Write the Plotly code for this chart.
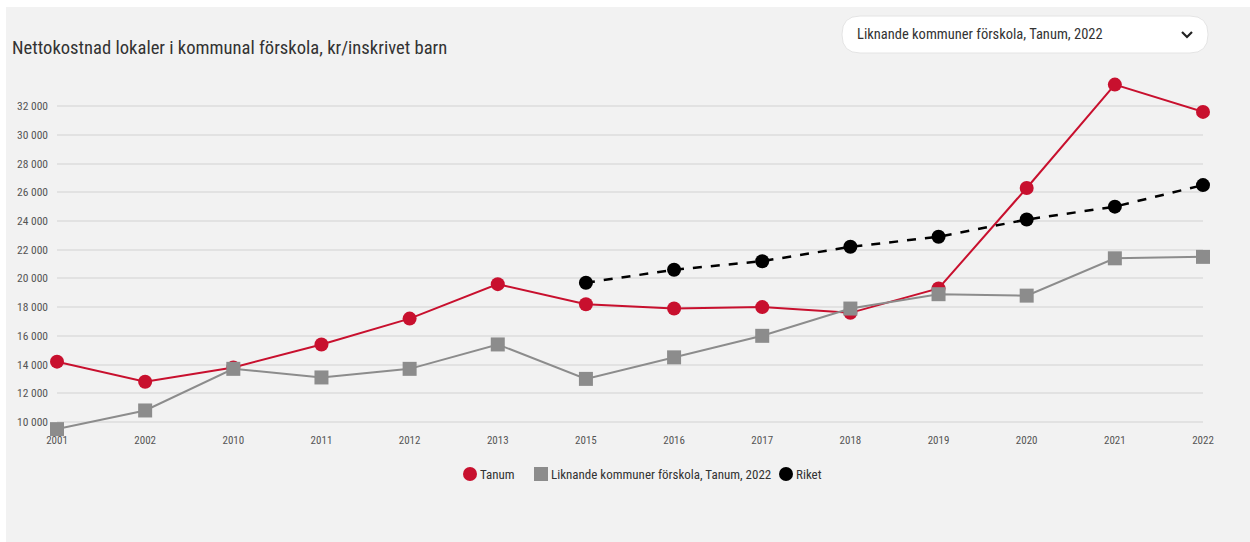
import plotly.graph_objects as go

# Years shown on the category axis
years = ["2001", "2002", "2010", "2011", "2012", "2013", "2015",
         "2016", "2017", "2018", "2019", "2020", "2021", "2022"]

# Net cost of premises, SEK per enrolled child
tanum = [14200, 12800, 13800, 15400, 17200, 19600, 18200,
         17900, 18000, 17600, 19300, 26300, 33500, 31600]
liknande = [9500, 10800, 13700, 13100, 13700, 15400, 13000,
            14500, 16000, 17900, 18900, 18800, 21400, 21500]
riket = [None, None, None, None, None, None, 19700,
         20600, 21200, 22200, 22900, 24100, 25000, 26500]

series_names = ["Tanum", "Liknande kommuner förskola, Tanum, 2022", "Riket"]

y_ticks = list(range(10000, 32001, 2000))
y_tick_text = [f"{v:,}".replace(",", " ") for v in y_ticks]

W, H = 1250, 542
ML, MR, MT, MB = 57, 47, 76, 110
PW, PH = W - ML - MR, H - MT - MB

FONT = "Liberation Sans Narrow, Roboto Condensed, Arial Narrow, Roboto, sans-serif"
RED, GREY, BLACK = "#c8102e", "#8c8c8c", "#000000"


def px_x(x):
    return (x - ML) / PW


def px_y(y):
    return (H - MB - y) / PH


fig = go.Figure()

fig.add_trace(go.Scatter(
    x=years, y=tanum, name=series_names[0], mode="lines+markers",
    line=dict(color=RED, width=2),
    marker=dict(symbol="circle", size=14, color=RED),
    cliponaxis=False,
))
fig.add_trace(go.Scatter(
    x=years, y=liknande, name=series_names[1], mode="lines+markers",
    line=dict(color=GREY, width=2),
    marker=dict(symbol="square", size=14, color=GREY),
    cliponaxis=False,
))
fig.add_trace(go.Scatter(
    x=years, y=riket, name=series_names[2], mode="lines+markers",
    line=dict(color=BLACK, width=2.5, dash="dash"),
    marker=dict(symbol="circle", size=14, color=BLACK),
    cliponaxis=False,
))

shapes = [
    # light panel behind the whole chart
    dict(type="rect", xref="paper", yref="paper", layer="below",
         x0=px_x(6), x1=px_x(1250), y0=px_y(542), y1=px_y(7),
         fillcolor="#f2f2f2", line=dict(width=0)),
]

# pill-shaped selector box
x0, x1, y0, y1, r = px_x(842), px_x(1208), px_y(53), px_y(16), 18
rx, ry = r / PW, r / PH
path = (f"M {x0 + rx},{y1} L {x1 - rx},{y1} "
        f"Q {x1},{y1} {x1},{y1 - ry} L {x1},{y0 + ry} "
        f"Q {x1},{y0} {x1 - rx},{y0} L {x0 + rx},{y0} "
        f"Q {x0},{y0} {x0},{y0 + ry} L {x0},{y1 - ry} "
        f"Q {x0},{y1} {x0 + rx},{y1} Z")
shapes.append(dict(type="path", xref="paper", yref="paper", path=path,
                   fillcolor="#ffffff", line=dict(color="#e4e4e4", width=1)))
# chevron inside the selector
shapes.append(dict(type="path", xref="paper", yref="paper",
                   path=(f"M {px_x(1182)},{px_y(32)} L {px_x(1187)},{px_y(37)} "
                         f"L {px_x(1192)},{px_y(32)}"),
                   line=dict(color="#222222", width=2.2)))

annotations = [
    dict(text="Liknande kommuner förskola, Tanum, 2022",
         xref="paper", yref="paper", x=px_x(855), y=px_y(34),
         xanchor="left", yanchor="middle", showarrow=False,
         font=dict(family=FONT, size=14.5, color="#333333")),
]

# compact legend row: marker symbol followed by series name
LEG_Y = 474
legend_items = [
    (470, "circle", RED, series_names[0]),
    (541, "square", GREY, series_names[1]),
    (786, "circle", BLACK, series_names[2]),
]
for cx, sym, col, label in legend_items:
    s = 7
    shapes.append(dict(type="circle" if sym == "circle" else "rect",
                       xref="paper", yref="paper",
                       x0=px_x(cx - s), x1=px_x(cx + s),
                       y0=px_y(LEG_Y + s), y1=px_y(LEG_Y - s),
                       fillcolor=col, line=dict(width=0)))
    annotations.append(dict(text=label, xref="paper", yref="paper",
                            x=px_x(cx + s + 1), y=px_y(LEG_Y),
                            xanchor="left", yanchor="middle", showarrow=False,
                            font=dict(family=FONT, size=13, color="#333333")))

fig.update_layout(
    width=W, height=H,
    margin=dict(l=ML, r=MR, t=MT, b=MB),
    paper_bgcolor="#ffffff",
    plot_bgcolor="rgba(0,0,0,0)",
    font=dict(family=FONT, color="#555555"),
    title=dict(text="Nettokostnad lokaler i kommunal förskola, kr/inskrivet barn",
               xref="container", yref="container",
               x=12 / W, y=1 - 47 / H, xanchor="left", yanchor="middle",
               font=dict(family=FONT, size=18.6, color="#333333")),
    xaxis=dict(type="category", range=[0, len(years) - 1],
               showgrid=False, zeroline=False, showline=False,
               ticks="", tickfont=dict(size=11, color="#555555")),
    yaxis=dict(range=[9300, 34100], tickvals=y_ticks, ticktext=y_tick_text,
               showgrid=True, gridcolor="#e2e2e2", gridwidth=1.5,
               zeroline=False, showline=False, ticks="",
               ticklabelstandoff=8,
               tickfont=dict(size=11.5, color="#555555")),
    shapes=shapes,
    annotations=annotations,
    showlegend=False,
)

fig.write_html("out.html")
